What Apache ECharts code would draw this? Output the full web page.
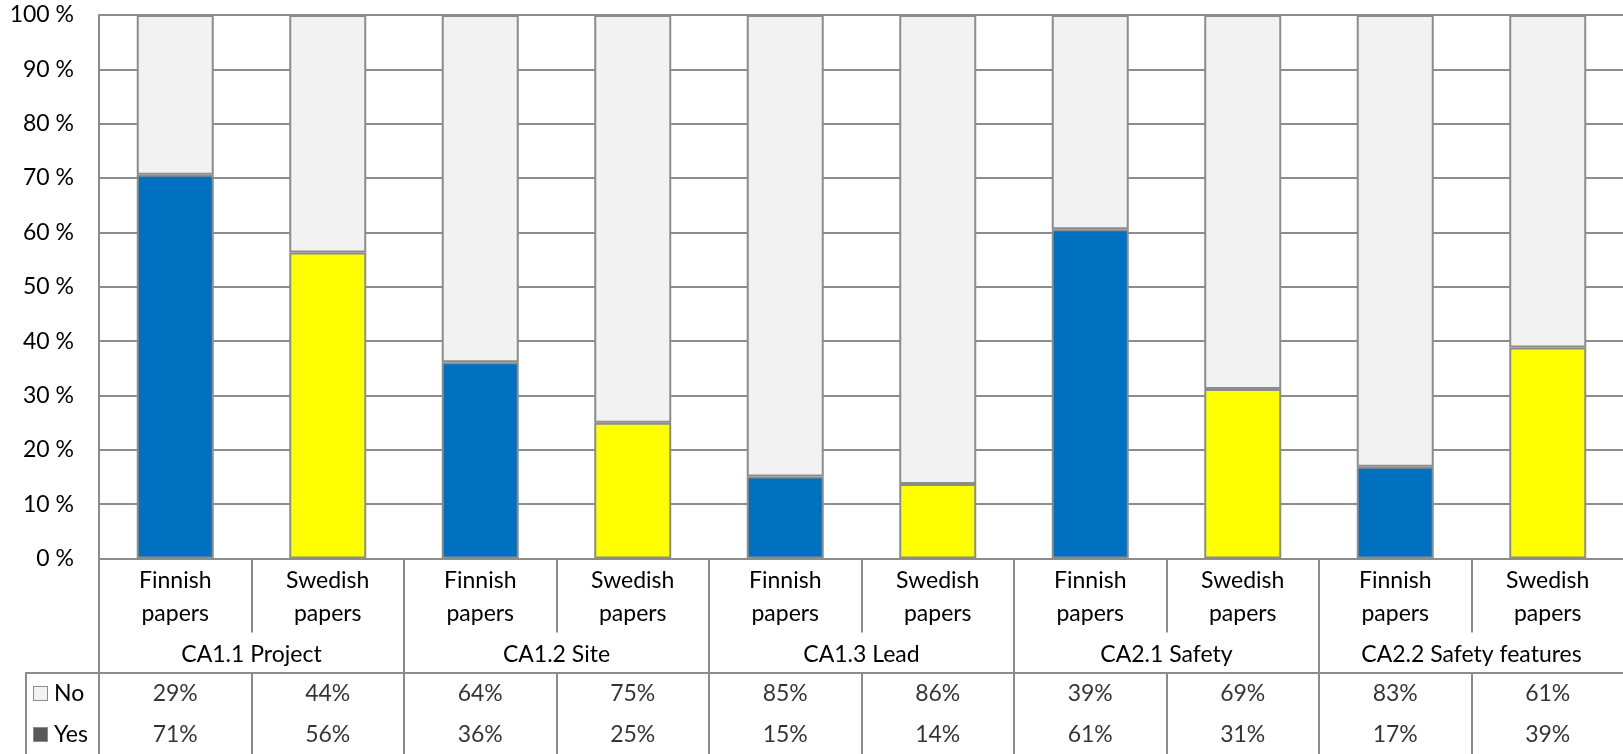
<!DOCTYPE html>
<html>
<head>
<meta charset="utf-8">
<script src="https://cdn.jsdelivr.net/npm/echarts@6/dist/echarts.min.js"></script>
<style>
html,body{margin:0;padding:0;background:#fff;}
#chart{width:1623px;height:754px;}
</style>
</head>
<body>
<div id="chart"></div>
<script>
// ---- data ----
const subCategories = ['Finnish papers','Swedish papers','Finnish papers','Swedish papers','Finnish papers','Swedish papers','Finnish papers','Swedish papers','Finnish papers','Swedish papers'];
const groups = ['CA1.1 Project','CA1.2 Site','CA1.3 Lead','CA2.1 Safety','CA2.2 Safety features'];
const yesShare = [70.6, 56.3, 36.1, 25.0, 15.1, 13.7, 60.6, 31.2, 16.9, 38.8];
const noShare  = [29.4, 43.7, 63.9, 75.0, 84.9, 86.3, 39.4, 68.8, 83.1, 61.2];
const tableNo  = ['29%','44%','64%','75%','85%','86%','39%','69%','83%','61%'];
const tableYes = ['71%','56%','36%','25%','15%','14%','61%','31%','17%','39%'];
const rowNames = ['No','Yes'];
const yTicks = [0,10,20,30,40,50,60,70,80,90,100];

// ---- style ----
const FONT = 'Lato, "Open Sans", sans-serif';
const LINE = '#8c8c8c';
const LW = 2;
const TXT = '#000000';
const barColors = ['#0070C0', '#FFFF00'];

const chart = echarts.init(document.getElementById('chart'), null, {renderer:'canvas'});

const option = {
  animation: false,
  backgroundColor: '#ffffff',
  textStyle: {fontFamily: FONT},
  grid: [
    {left: 99, top: 15, width: 1525, height: 543.5, outerBoundsMode: 'none', containLabel: false},
    {left: 99, top: 673, width: 1525, height: 82, outerBoundsMode: 'none', containLabel: false},
    {left: 26, top: 673, width: 1598, height: 82, outerBoundsMode: 'none', containLabel: false}
  ],
  xAxis: [
    { // sub categories
      type: 'category', gridIndex: 0, data: subCategories, position: 'bottom',
      axisLine: {show: true, lineStyle: {color: LINE, width: LW}},
      axisTick: {show: true, interval: 0, length: 74, lineStyle: {color: LINE, width: LW}},
      axisLabel: {
        interval: 0, margin: 6, color: TXT, fontFamily: FONT, fontSize: 23, lineHeight: 33,
        formatter: v => v.replace(' ', '\n')
      },
      splitLine: {show: false}
    },
    { // groups
      type: 'category', gridIndex: 0, data: groups, position: 'bottom',
      axisLine: {show: false},
      axisTick: {show: true, interval: 0, length: 115, lineStyle: {color: LINE, width: LW}},
      axisLabel: {interval: 0, margin: 80, color: TXT, fontFamily: FONT, fontSize: 23, lineHeight: 33},
      splitLine: {show: false}
    },
    { // data table columns
      type: 'category', gridIndex: 1, data: subCategories, position: 'top',
      axisLine: {show: true, lineStyle: {color: LINE, width: LW}},
      axisTick: {show: false},
      axisLabel: {show: false},
      splitLine: {show: true, interval: 0, lineStyle: {color: LINE, width: LW}}
    },
    { // table outer border (top)
      type: 'category', gridIndex: 2, data: subCategories, position: 'top',
      axisLine: {show: true, lineStyle: {color: LINE, width: LW}},
      axisTick: {show: false}, axisLabel: {show: false}, splitLine: {show: false}
    }
  ],
  yAxis: [
    {
      type: 'value', gridIndex: 0, min: 0, max: 100, interval: 10,
      axisLine: {show: true, lineStyle: {color: LINE, width: LW}},
      axisTick: {show: false},
      axisLabel: {margin: 25, color: TXT, fontFamily: FONT, fontSize: 23, formatter: '{value} %'},
      splitLine: {show: true, lineStyle: {color: LINE, width: LW}}
    },
    {
      type: 'category', gridIndex: 1, data: rowNames, inverse: true,
      axisLine: {show: true, lineStyle: {color: LINE, width: LW}},
      axisTick: {show: false},
      axisLabel: {
        margin: 65, align: 'left', color: TXT, fontFamily: FONT, fontSize: 23,
        formatter: v => (v === 'No' ? '{sqNo|}' : '{sqYes|}') + '{t|' + v + '}',
        rich: {
          sqNo: {width: 13, height: 13, backgroundColor: '#f2f2f2', borderColor: '#8c8c8c', borderWidth: 1},
          sqYes: {width: 13, height: 13, backgroundColor: '#595959', borderColor: '#8c8c8c', borderWidth: 1},
          t: {fontSize: 23, fontFamily: FONT, color: TXT, padding: [0, 0, 0, 7]}
        }
      },
      splitLine: {show: false}
    },
    { // table outer border (left)
      type: 'category', gridIndex: 2, data: rowNames, inverse: true,
      axisLine: {show: true, lineStyle: {color: LINE, width: LW}},
      axisTick: {show: false}, axisLabel: {show: false}, splitLine: {show: false}
    }
  ],
  series: [
    {
      name: 'Yes', type: 'bar', stack: 'share', xAxisIndex: 0, yAxisIndex: 0,
      barWidth: '50.5%', data: yesShare,
      itemStyle: {
        color: p => barColors[p.dataIndex % 2],
        borderColor: LINE, borderWidth: LW
      },
      emphasis: {disabled: true}
    },
    {
      name: 'No', type: 'bar', stack: 'share', xAxisIndex: 0, yAxisIndex: 0,
      barWidth: '50.5%', data: noShare,
      itemStyle: {color: '#f2f2f2', borderColor: LINE, borderWidth: LW},
      emphasis: {disabled: true}
    },
    {
      name: 'tableNo', type: 'scatter', xAxisIndex: 2, yAxisIndex: 1,
      symbolSize: 0, silent: true,
      data: tableNo.map((t, i) => [i, 'No', t]),
      label: {show: true, position: 'inside', formatter: p => p.value[2], color: TXT, fontFamily: FONT, fontSize: 23}
    },
    {
      name: 'tableYes', type: 'scatter', xAxisIndex: 2, yAxisIndex: 1,
      symbolSize: 0, silent: true,
      data: tableYes.map((t, i) => [i, 'Yes', t]),
      label: {show: true, position: 'inside', formatter: p => p.value[2], color: TXT, fontFamily: FONT, fontSize: 23}
    }
  ]
};
chart.setOption(option);
</script>
</body>
</html>
